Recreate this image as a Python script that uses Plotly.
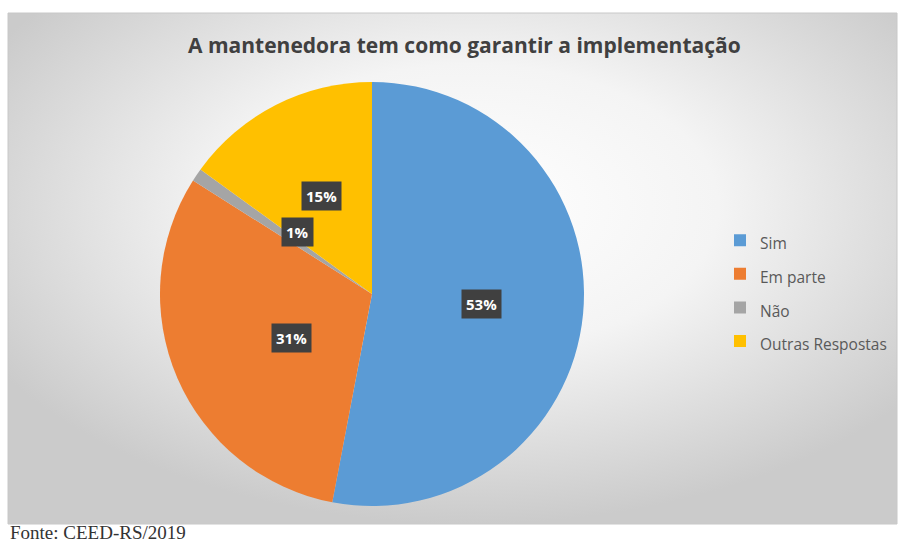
import base64, math
import plotly.graph_objects as go

# ---- data ----
categories = ["Sim", "Em parte", "Não", "Outras Respostas"]
values = [53, 31, 1, 15]
pct_labels = ["53%", "31%", "1%", "15%"]
colors = ["#5B9BD5", "#ED7D31", "#A5A5A5", "#FFC000"]
title_text = "A mantenedora tem como garantir a implementação"
source_text = "Fonte: CEED-RS/2019"

W, H = 899, 545
# pie geometry (pixels)
cx, cy, r = 372, 294, 212
dom_x = [(cx - r) / W, (cx + r) / W]
dom_y = [(H - cy - r) / H, (H - cy + r) / H]

# frame (pixels)
fx0, fx1, fy0, fy1 = 8, 897, 13, 524

svg = f'''<svg xmlns="http://www.w3.org/2000/svg" width="{fx1-fx0}" height="{fy1-fy0}" viewBox="0 0 {fx1-fx0} {fy1-fy0}" preserveAspectRatio="none">
<defs><radialGradient id="g" cx="0.52" cy="0.38" r="0.62">
<stop offset="0" stop-color="#ffffff"/>
<stop offset="0.45" stop-color="#f4f4f4"/>
<stop offset="1" stop-color="#cbcbcb"/>
</radialGradient></defs>
<rect x="0" y="0" width="{fx1-fx0}" height="{fy1-fy0}" fill="url(#g)"/>
</svg>'''
src = "data:image/svg+xml;base64," + base64.b64encode(svg.encode()).decode()

legend_labels = [f"<span style='font-size:15.5px'>{c}</span>" for c in categories]

fig = go.Figure(go.Pie(
    labels=legend_labels,
    values=values,
    marker=dict(colors=colors, line=dict(width=0)),
    sort=False,
    direction="clockwise",
    rotation=0,
    textinfo="none",
    hoverinfo="skip",
    domain=dict(x=dom_x, y=dom_y),
))

# data labels in dark boxes
annotations = []
total = sum(values)
cum = 0
for v, lab in zip(values, pct_labels):
    mid = (cum + v / 2) / total * 2 * math.pi
    cum += v
    px = cx + 0.52 * r * math.sin(mid)
    py = cy - 0.52 * r * math.cos(mid)
    annotations.append(dict(
        x=px / W, y=1 - py / H, xref="paper", yref="paper", showarrow=False,
        text=f"<b>{lab}</b>", font=dict(family="Open Sans", size=15, color="white"),
        bgcolor="#404040", borderpad=4,
    ))

annotations.append(dict(
    x=464 / W, y=1 - 45 / H, xref="paper", yref="paper", showarrow=False,
    text=f"<b>{title_text}</b>", font=dict(family="Open Sans", size=21, color="#404040"),
    xanchor="center", yanchor="middle",
))
annotations.append(dict(
    x=8 / W, y=0, xref="paper", yref="paper", showarrow=False,
    text=source_text, font=dict(family="Liberation Serif", size=19, color="#333333"),
    xanchor="left", yanchor="bottom",
))

fig.update_layout(
    width=W, height=H,
    margin=dict(l=0, r=0, t=0, b=0),
    paper_bgcolor="white",
    showlegend=True,
    legend=dict(x=720 / W, y=1 - 291 / H, xanchor="left", yanchor="middle",
                font=dict(family="Open Sans", size=23.5, color="#595959"),
                bgcolor="rgba(0,0,0,0)"),
    images=[dict(source=src, xref="paper", yref="paper",
                 x=fx0 / W, y=1 - fy0 / H, sizex=(fx1 - fx0) / W, sizey=(fy1 - fy0) / H,
                 xanchor="left", yanchor="top", sizing="stretch", layer="below")],
    shapes=[dict(type="rect", xref="paper", yref="paper",
                 x0=fx0 / W, x1=fx1 / W, y0=1 - fy1 / H, y1=1 - fy0 / H,
                 line=dict(color="#c8c8c8", width=1), layer="below")],
    annotations=annotations,
)

fig.write_html("out.html")
